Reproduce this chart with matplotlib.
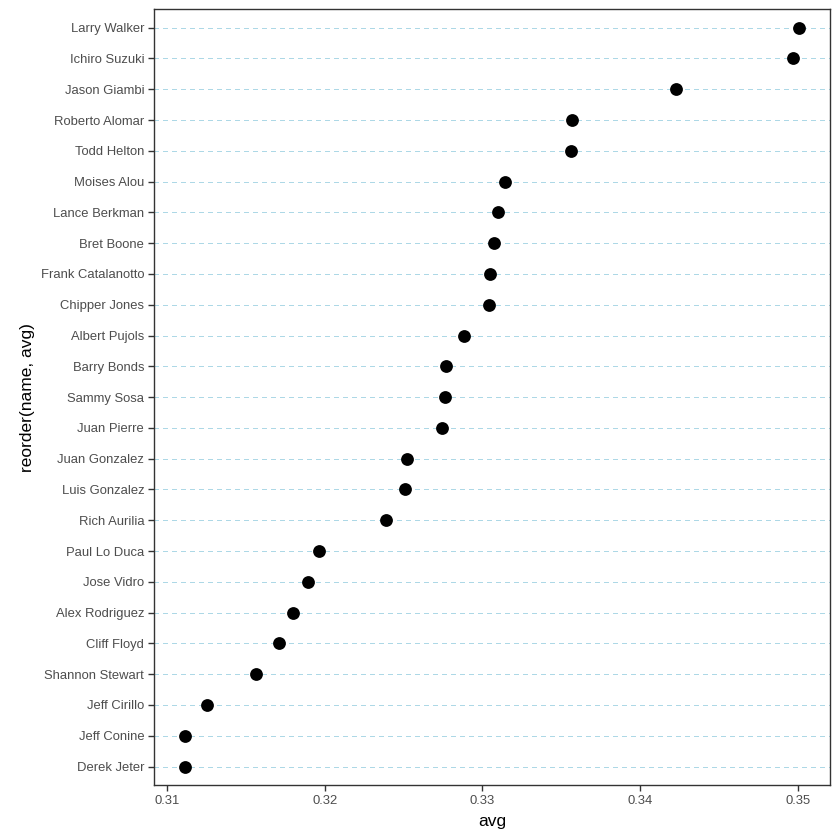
import matplotlib.pyplot as plt

plt.rcParams['font.family'] = ['Liberation Sans', 'DejaVu Sans']

names = ['Derek Jeter', 'Jeff Conine', 'Jeff Cirillo', 'Shannon Stewart', 'Cliff Floyd',
         'Alex Rodriguez', 'Jose Vidro', 'Paul Lo Duca', 'Rich Aurilia', 'Luis Gonzalez',
         'Juan Gonzalez', 'Juan Pierre', 'Sammy Sosa', 'Barry Bonds', 'Albert Pujols',
         'Chipper Jones', 'Frank Catalanotto', 'Bret Boone', 'Lance Berkman', 'Moises Alou',
         'Todd Helton', 'Roberto Alomar', 'Jason Giambi', 'Ichiro Suzuki', 'Larry Walker']
avg = [0.3111, 0.3111, 0.3125, 0.3156, 0.3171,
       0.3180, 0.3189, 0.3196, 0.3239, 0.3251,
       0.3252, 0.3274, 0.3276, 0.3277, 0.3288,
       0.3304, 0.3305, 0.3307, 0.3310, 0.3314,
       0.3356, 0.3357, 0.3423, 0.3497, 0.3501]
xticks = [0.31, 0.32, 0.33, 0.34, 0.35]

fig = plt.figure(figsize=(8.4, 8.4), dpi=100)
ax = fig.add_axes([0.1833, 0.0655, 0.8047, 0.9235])

ypos = list(range(1, len(names) + 1))
for y in ypos:
    ax.axhline(y, color='#ADD8E6', linestyle=(0, (4, 4)), linewidth=0.75,
               antialiased=False, zorder=1)
ax.scatter(avg, ypos, s=85, color='black', zorder=3, linewidths=0)

lo, hi = min(avg), max(avg)
pad = (hi - lo) * 0.05
ax.set_xlim(lo - pad, hi + pad)
ax.set_ylim(0.4, len(names) + 0.6)
ax.set_xticks(xticks)
ax.set_xticklabels([f'{t:g}' for t in xticks])
ax.set_yticks(ypos)
ax.set_yticklabels(names)

for s in ax.spines.values():
    s.set_color('#333333')
    s.set_linewidth(1.0)
ax.tick_params(axis='both', colors='#333333', length=4, width=1.0,
               labelsize=9.4, labelcolor='#4D4D4D', pad=3)

ax.set_xlabel('avg', fontsize=12.5, color='black', labelpad=5)
ax.set_ylabel('reorder(name, avg)', fontsize=12.5, color='black', labelpad=4)

fig.savefig('out.png', dpi=100)
